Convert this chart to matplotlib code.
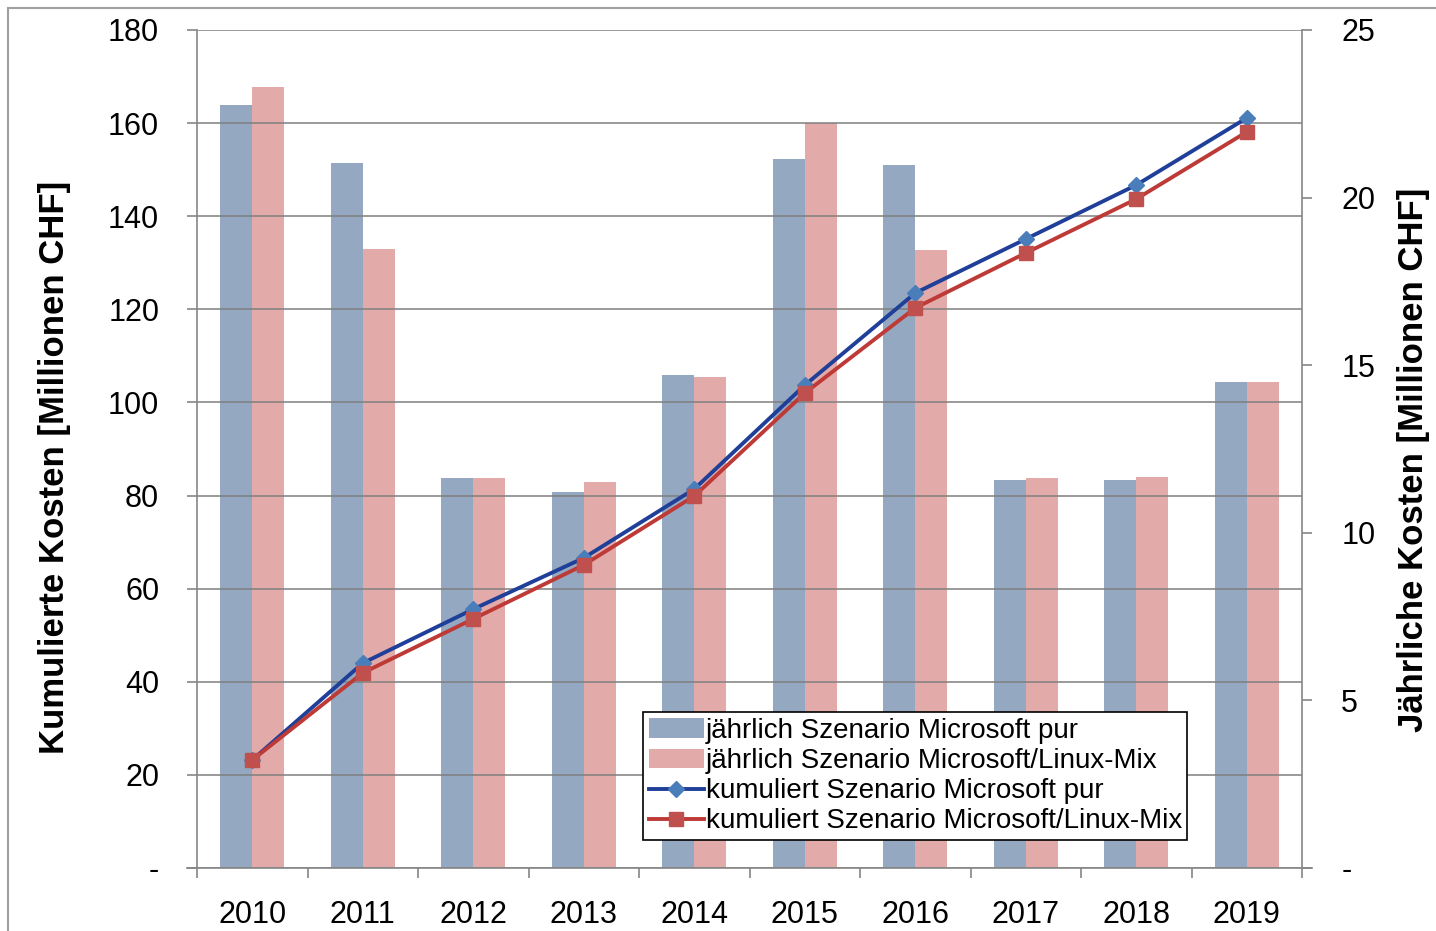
import matplotlib
matplotlib.use("Agg")
import matplotlib.pyplot as plt
from matplotlib.patches import Rectangle
import numpy as np

plt.rcParams['font.family'] = ['Liberation Sans', 'DejaVu Sans']

years = ['2010', '2011', '2012', '2013', '2014', '2015', '2016', '2017', '2018', '2019']
annual_ms = [22.76, 21.03, 11.63, 11.22, 14.71, 21.15, 20.97, 11.57, 11.57, 14.50]
annual_mix = [23.30, 18.47, 11.63, 11.52, 14.65, 22.23, 18.44, 11.63, 11.66, 14.50]
cum_ms = [23.2, 44.0, 55.6, 66.6, 81.4, 103.7, 123.5, 135.1, 146.7, 161.1]
cum_mix = [23.2, 41.9, 53.5, 65.1, 79.9, 102.0, 120.3, 132.1, 143.7, 158.1]

left_ticks = [0, 20, 40, 60, 80, 100, 120, 140, 160, 180]
left_labels = ['-', '20', '40', '60', '80', '100', '120', '140', '160', '180']
right_ticks = [0, 5, 10, 15, 20, 25]
right_labels = ['-', '5', '10', '15', '20', '25']

lbl_bar_ms = 'jährlich Szenario Microsoft pur'
lbl_bar_mix = 'jährlich Szenario Microsoft/Linux-Mix'
lbl_cum_ms = 'kumuliert Szenario Microsoft pur'
lbl_cum_mix = 'kumuliert Szenario Microsoft/Linux-Mix'

W, H = 1436, 931
fig = plt.figure(figsize=(W / 100, H / 100), dpi=100)

# outer frame
fig.patches.append(Rectangle((8 / W, -0.1), 1.2, 1 - 8 / H + 0.1, transform=fig.transFigure,
                             fill=False, edgecolor='#a0a0a0', linewidth=1.5))

ax_bar = fig.add_axes([197 / W, 1 - 868 / H, (1302 - 197) / W, (868 - 30) / H])
ax_line = ax_bar.twinx()

x = np.arange(len(years))
bw = 0.29
blue_bar = '#94a8c2'
pink_bar = '#e2aaa9'
ax_bar.bar(x - bw / 2, annual_ms, bw, color=blue_bar, label=lbl_bar_ms, zorder=2)
ax_bar.bar(x + bw / 2, annual_mix, bw, color=pink_bar, label=lbl_bar_mix, zorder=2)
ax_bar.set_ylim(0, 25)

ax_line.plot(x, cum_ms, color='#1f3f99', lw=2.8, marker='D', ms=8, mfc='#4a7ebb',
             mec='#4a7ebb', label=lbl_cum_ms, zorder=4)
ax_line.plot(x, cum_mix, color='#be3a37', lw=2.8, marker='s', ms=9.5, mfc='#c0504d',
             mec='#c0504d', label=lbl_cum_mix, zorder=5)
ax_line.set_ylim(0, 180)

# swap sides: bar axis on right, line axis on left
ax_bar.yaxis.tick_right()
ax_line.yaxis.tick_left()

ax_line.set_yticks(left_ticks)
ax_line.set_yticklabels(left_labels)
ax_bar.set_yticks(right_ticks)
ax_bar.set_yticklabels(right_labels)

ax_line.grid(axis='y', color='#7f7f7f', lw=1.1, zorder=1)
ax_line.set_axisbelow(True)
ax_line.patch.set_visible(False)

spine_c = '#868686'
for a in (ax_bar, ax_line):
    for s in a.spines.values():
        s.set_visible(False)
for s in ('left', 'right', 'bottom'):
    ax_line.spines[s].set_visible(True)
    ax_line.spines[s].set_color(spine_c)
    ax_line.spines[s].set_linewidth(1.2)
ax_line.spines['bottom'].set_bounds(-0.5 - 10 / 110.5, len(years) - 0.5 + 10 / 110.5)

ax_line.tick_params(axis='y', direction='out', length=7.2, width=1.2, color=spine_c,
                    labelsize=22, pad=20)
ax_bar.tick_params(axis='y', direction='out', length=7.2, width=1.2, color=spine_c,
                   labelsize=22, pad=21)

# x ticks (shared x axis drawn by ax_bar): labels at centres, marks at boundaries
ax_bar.set_xticks(x)
ax_bar.set_xticklabels(years)
ax_bar.set_xticks(np.arange(len(years) + 1) - 0.5, minor=True)
ax_bar.tick_params(axis='x', which='major', length=0, labelsize=22, pad=23)
ax_bar.tick_params(axis='x', which='minor', direction='out', length=7.2, width=1.2,
                   color=spine_c)
ax_bar.set_xlim(-0.5, len(years) - 0.5)

fig.text(55 / W, 1 - 467 / H, 'Kumulierte Kosten [Millionen CHF]', rotation=90,
         ha='center', va='center', fontsize=25, fontweight='bold')
fig.text(1414 / W, 1 - 460 / H, 'Jährliche Kosten [Millionen CHF]', rotation=90,
         ha='center', va='center', fontsize=25, fontweight='bold')

h1, l1 = ax_bar.get_legend_handles_labels()
h2, l2 = ax_line.get_legend_handles_labels()
leg = ax_line.legend(h1 + h2, l1 + l2, loc='lower left',
                     bbox_to_anchor=(643 / W, 1 - 840 / H), bbox_transform=fig.transFigure,
                     fontsize=20, frameon=True, fancybox=False, framealpha=1,
                     edgecolor='black', borderpad=0.2, labelspacing=0.15,
                     handlelength=2.0, handletextpad=0.05, borderaxespad=0)
leg.get_frame().set_linewidth(1.2)
leg.set_zorder(10)

fig.savefig('out.png', dpi=100)
